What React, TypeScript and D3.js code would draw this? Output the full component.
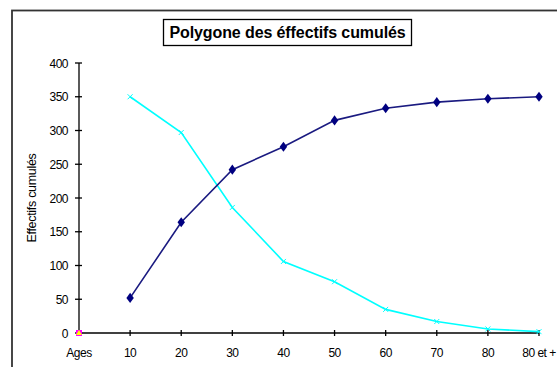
import React from "react";
import * as d3 from "d3";

const categories = ["Ages", "10", "20", "30", "40", "50", "60", "70", "80", "80 et +"];
const cumulCroissant: (number | null)[] = [null, 52, 164, 242, 276, 315, 333, 342, 347, 350];
const cumulDecroissant: (number | null)[] = [null, 350, 297, 186, 106, 76, 35, 17, 6, 2];
const origineA: (number | null)[] = [0, null, null, null, null, null, null, null, null, null];
const origineB: (number | null)[] = [0, null, null, null, null, null, null, null, null, null];
const yTicks = [0, 50, 100, 150, 200, 250, 300, 350, 400];
const title = "Polygone des éffectifs cumulés";
const yTitle = "Effectifs cumulés";

const W = 557;
const H = 367;
const FONT = "'Liberation Sans', Arial, sans-serif";

export default function App() {
  const x = d3.scalePoint<string>().domain(categories).range([79, 539]).padding(0);
  const y = d3.scaleLinear().domain([0, 400]).range([333, 63]);

  const line = d3
    .line<number | null>()
    .defined((d) => d !== null)
    .x((_, i) => x(categories[i]) as number)
    .y((d) => y(d as number));

  const pts = (arr: (number | null)[]) =>
    arr
      .map((v, i) => ({ v, c: categories[i] }))
      .filter((p) => p.v !== null)
      .map((p) => ({ cx: x(p.c) as number, cy: y(p.v as number) }));

  const diamond = d3.symbol().type(d3.symbolDiamond).size(36)();
  const navy = "#1a1a80";
  const cyan = "#00ffff";

  return (
    <svg
      width={W}
      height={H}
      style={{ position: "absolute", left: 0, top: 0, background: "#fff" }}
      fontFamily={FONT}
    >
      <rect x={0} y={0} width={W} height={H} fill="#fff" />
      {/* outer frame */}
      <rect x={12} y={10.5} width={W + 20} height={H + 20} fill="none" stroke="#333" strokeWidth={1.8} />
      {/* title */}
      <rect x={163.5} y={19.5} width={248} height={26} fill="#fff" stroke="#000" strokeWidth={1.3} />
      <text x={287.5} y={38} textAnchor="middle" fontSize={16} fontWeight="bold" letterSpacing={-0.1}>
        {title}
      </text>
      {/* y axis title */}
      <text
        transform={`translate(36,${(y(0) + y(400)) / 2}) rotate(-90)`}
        textAnchor="middle"
        fontSize={12.5}
        letterSpacing={-0.3}
      >
        {yTitle}
      </text>
      {/* y axis */}
      <line x1={79} x2={79} y1={y(400)} y2={y(0)} stroke="#000" strokeWidth={1.3} />
      {yTicks.map((t) => (
        <g key={t}>
          <line x1={75} x2={82} y1={y(t)} y2={y(t)} stroke="#000" strokeWidth={1.3} />
          <text x={68} y={y(t) + 4.5} textAnchor="end" fontSize={12} letterSpacing={-0.5}>
            {t}
          </text>
        </g>
      ))}
      {/* x axis */}
      <line x1={79} x2={539} y1={y(0)} y2={y(0)} stroke="#000" strokeWidth={1.3} />
      {categories.map((c) => (
        <g key={c}>
          <line x1={x(c) as number} x2={x(c) as number} y1={y(0) - 3} y2={y(0) + 3} stroke="#000" strokeWidth={1.3} />
          <text x={x(c) as number} y={356.5} textAnchor="middle" fontSize={12} letterSpacing={-0.5}>
            {c}
          </text>
        </g>
      ))}
      {/* decreasing series */}
      <path d={line(cumulDecroissant) || ""} fill="none" stroke={cyan} strokeWidth={1.6} />
      {pts(cumulDecroissant).map((p, i) => (
        <g key={"c" + i} stroke={cyan} strokeWidth={1}>
          <line x1={p.cx - 2.5} x2={p.cx + 2.5} y1={p.cy - 2.5} y2={p.cy + 2.5} />
          <line x1={p.cx - 2.5} x2={p.cx + 2.5} y1={p.cy + 2.5} y2={p.cy - 2.5} />
        </g>
      ))}
      {/* increasing series */}
      <path d={line(cumulCroissant) || ""} fill="none" stroke={navy} strokeWidth={1.6} />
      {pts(cumulCroissant).map((p, i) => (
        <path key={"n" + i} d={diamond || ""} transform={`translate(${p.cx},${p.cy}) scale(1.15,0.9)`} fill="#000080" />
      ))}
      {/* origin markers */}
      {pts(origineA).map((p, i) => (
        <rect key={"a" + i} x={p.cx - 3} y={p.cy - 3} width={6} height={6} fill="#ff00ff" />
      ))}
      {pts(origineB).map((p, i) => (
        <path key={"b" + i} d={`M${p.cx},${p.cy - 3}L${p.cx + 3},${p.cy + 2}L${p.cx - 3},${p.cy + 2}Z`} fill="#ffff00" />
      ))}
    </svg>
  );
}
